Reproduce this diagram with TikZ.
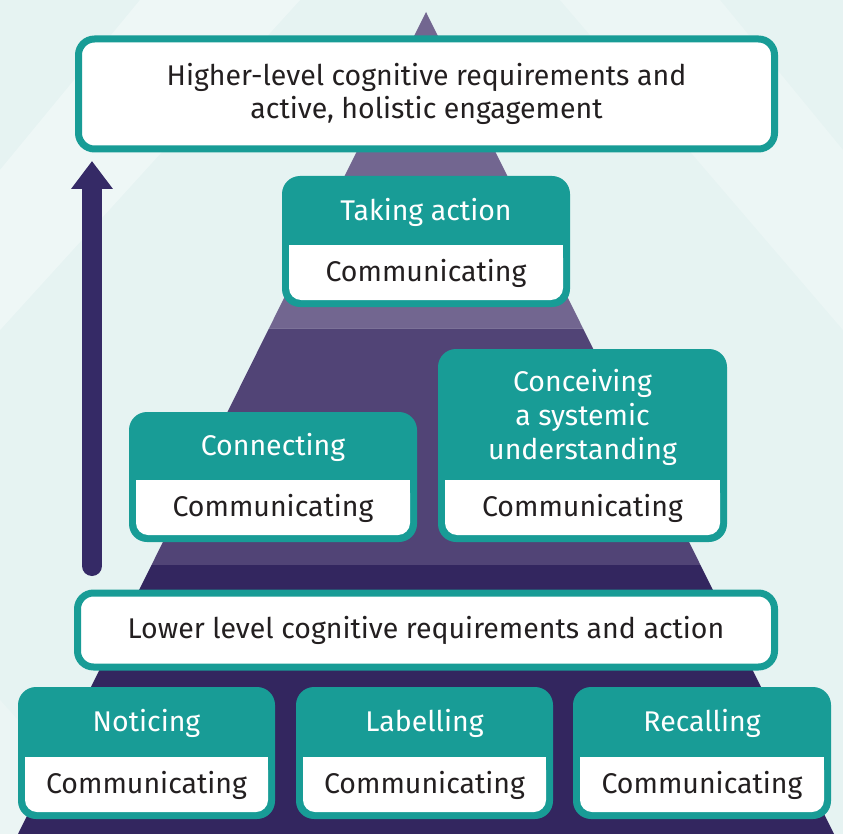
\documentclass[tikz,border=0pt]{standalone}
\usepackage{fontspec}
\setmainfont{Fira Sans}
\usetikzlibrary{arrows.meta}

\definecolor{stageteal}{HTML}{189C96}
\definecolor{bandtop}{HTML}{726690}
\definecolor{bandmid}{HTML}{514476}
\definecolor{bandlow}{HTML}{33265F}
\definecolor{arrowpurple}{HTML}{352A66}
\definecolor{inktext}{HTML}{231F20}
\definecolor{bgpale}{HTML}{E6F3F2}

\tikzset{
  levelbox/.style={draw=stageteal,line width=7pt,fill=white,rounded corners=16pt,
    text=inktext,align=center,font=\fontsize{28.5}{33}\selectfont},
  stagebox/.style={fill=stageteal,rounded corners=18pt,inner sep=0pt},
  stagetitle/.style={text=white,align=center,inner sep=0pt,font=\fontsize{28.5}{34}\selectfont},
  commbox/.style={fill=white,rounded corners=12pt,inner sep=0pt,text=inktext,
    font=\fontsize{28.5}{33}\selectfont},
}

\begin{document}
\begin{tikzpicture}[x=1pt,y=-1pt]
  \useasboundingbox (0,0) rectangle (843,834);
  % pale backdrop with soft streaks
  \fill[bgpale] (0,0) rectangle (843,834);
  \fill[white,opacity=0.35] (140,0) -- (300,0) -- (0,330) -- (0,170) -- cycle;
  \fill[white,opacity=0.25] (560,0) -- (720,0) -- (843,150) -- (843,330) -- cycle;
  \fill[white,opacity=0.2] (0,520) -- (0,700) -- (120,834) -- (0,834) -- cycle;

  % pyramid in three bands
  \coordinate (apex) at (426,12);
  \coordinate (baseL) at (18,834);
  \coordinate (baseR) at (834,834);
  \begin{scope}
    \clip (apex) -- (baseL) -- (baseR) -- cycle;
    \fill[bandlow] (0,565) rectangle (843,834);
    \fill[bandmid] (0,328) rectangle (843,565);
    \fill[bandtop] (0,0) rectangle (843,328);
    \draw[white,opacity=0.25,line width=1pt] (0,328) -- (843,328);
  \end{scope}

  % upward arrow
  \coordinate (arrowfoot) at (92,566);
  \coordinate (arrowtip) at (92,161);
  \draw[arrowpurple,line width=20pt,line cap=round,-{Triangle[length=28pt,width=40pt]}]
    (arrowfoot) -- (arrowtip);

  % level boxes
  \node[levelbox,minimum width=696pt,minimum height=110pt] (higher) at (426.5,94)
    {Higher-level cognitive requirements and\\active, holistic engagement};
  \node[levelbox,minimum width=697pt,minimum height=74pt] (lower) at (426,630)
    {Lower level cognitive requirements and action};

  % name, left, top, right, bottom, title, title y
  \newcommand{\stagecard}[7]{
    \node[stagebox,minimum width={#4-#2},minimum height={#5-#3}] (#1) at ({(#2+#4)/2},{(#3+#5)/2}) {};
    \fill[white] ({#2+7},{#5-62}) rectangle ({#4-7},{#5-48});
    \node[commbox,minimum width={#4-#2-14},minimum height=54pt] (#1-comm) at ({(#2+#4)/2},{#5-34}) {Communicating};
    \node[stagetitle] (#1-title) at ({(#2+#4)/2},#7) {#6};
  }

  \stagecard{taking}{282}{176}{570}{307}{Taking action}{212}
  \stagecard{connecting}{129}{412}{417}{542}{Connecting}{447}
  \stagecard{conceiving}{438}{349}{727}{542}{Conceiving\\a systemic\\understanding}{417}
  \foreach \name/\left/\right/\title in {noticing/18/275/Noticing,labelling/296/553/Labelling,recalling/573/831/Recalling}{
    \stagecard{\name}{\left}{687}{\right}{819}{\title}{723}
  }
\end{tikzpicture}
\end{document}
